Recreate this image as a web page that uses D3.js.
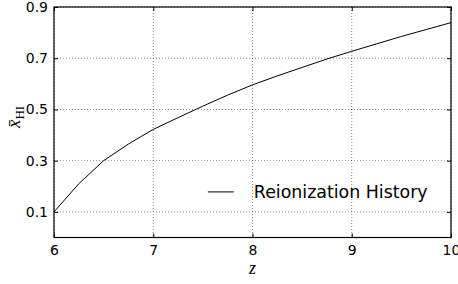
<!DOCTYPE html>
<html>
<head>
<meta charset="utf-8">
<script src="https://cdn.jsdelivr.net/npm/d3@7"></script>
<style>
	body { margin: 0; background: #fff; }
	svg { display: block; }
	.tick text { font-family: "DejaVu Sans", sans-serif; font-size: 14px; fill: #000; }
</style>
</head>
<body>
<svg id="chart" width="458" height="284"></svg>
<script>
// redshift samples and neutral fraction
var zValues = [6, 6.25, 6.5, 6.75, 7, 7.25, 7.5, 7.75, 8, 8.25, 8.5, 8.75, 9, 9.25, 9.5, 9.75, 10]
var xhiValues = [0.1, 0.21, 0.30, 0.365, 0.422, 0.468, 0.513, 0.556, 0.596, 0.631, 0.664, 0.697, 0.727, 0.756, 0.785, 0.812, 0.839]

var xTicks = [6, 7, 8, 9, 10]
var yTicks = [0.1, 0.3, 0.5, 0.7, 0.9]
var legendLabel = "Reionization History"

var width = 458, height = 284
var margin = {top: 7, right: 7, bottom: 46.5, left: 54}
var w = width - margin.left - margin.right
var h = height - margin.top - margin.bottom

var svg = d3.select("#chart")
var g = svg.append("g")
	.attr("transform", "translate(" + margin.left + "," + margin.top + ")")

var xScale = d3.scaleLinear().domain([6, 10]).range([0, w])
var yScale = d3.scaleLinear().domain([0, 0.9]).range([h, 0])

// dotted grid
g.append("g")
	.selectAll("line")
	.data(xTicks)
	.enter()
	.append("line")
	.attr("x1", function(d){ return xScale(d) })
	.attr("x2", function(d){ return xScale(d) })
	.attr("y1", 0)
	.attr("y2", h)
	.attr("stroke", "#000")
	.attr("stroke-width", 0.6)
	.attr("stroke-dasharray", "1,2")
	.attr("opacity", 0.75)

g.append("g")
	.selectAll("line")
	.data(yTicks)
	.enter()
	.append("line")
	.attr("x1", 0)
	.attr("x2", w)
	.attr("y1", function(d){ return yScale(d) })
	.attr("y2", function(d){ return yScale(d) })
	.attr("stroke", "#000")
	.attr("stroke-width", 0.6)
	.attr("stroke-dasharray", "1,2")
	.attr("opacity", 0.75)

// axes, ticks pointing inward like classic matplotlib
var fmtY = d3.format(".1f")
g.append("g")
	.attr("transform", "translate(0," + h + ")")
	.call(d3.axisBottom(xScale).tickValues(xTicks).tickSize(-4).tickPadding(8).tickFormat(d3.format("d")))
	.call(function(a){ a.select(".domain").remove() })

g.append("g")
	.call(d3.axisTop(xScale).tickValues(xTicks).tickSize(-4).tickFormat(""))
	.call(function(a){ a.select(".domain").remove() })

g.append("g")
	.call(d3.axisLeft(yScale).tickValues(yTicks).tickSize(-4).tickPadding(6).tickFormat(fmtY))
	.call(function(a){ a.select(".domain").remove() })

g.append("g")
	.attr("transform", "translate(" + w + ",0)")
	.call(d3.axisRight(yScale).tickValues(yTicks).tickSize(-4).tickFormat(""))
	.call(function(a){ a.select(".domain").remove() })

g.selectAll(".tick line").attr("stroke", "#000").attr("stroke-width", 1)

// frame
g.append("rect")
	.attr("x", 0)
	.attr("y", 0)
	.attr("width", w)
	.attr("height", h)
	.attr("fill", "none")
	.attr("stroke", "#000")
	.attr("stroke-width", 1.2)

// the curve
var line = d3.line()
	.x(function(d, i){ return xScale(zValues[i]) })
	.y(function(d){ return yScale(d) })

g.append("path")
	.datum(xhiValues)
	.attr("d", line)
	.attr("fill", "none")
	.attr("stroke", "#000")
	.attr("stroke-width", 1)

// legend
var legend = g.append("g")
	.attr("transform", "translate(" + (xScale(7.55)) + "," + (yScale(0.178)) + ")")
legend.append("line")
	.attr("x1", 0).attr("x2", 26)
	.attr("y1", 0).attr("y2", 0)
	.attr("stroke", "#000")
	.attr("stroke-width", 1)
legend.append("text")
	.attr("x", 46)
	.attr("y", 6.5)
	.style("font-family", "DejaVu Sans, sans-serif")
	.style("font-size", "17.4px")
	.text(legendLabel)

// axis labels
svg.append("text")
	.attr("x", margin.left + xScale(8))
	.attr("y", 274)
	.attr("text-anchor", "middle")
	.style("font-family", "Liberation Serif, serif")
	.style("font-style", "italic")
	.style("font-size", "18px")
	.text("z")

var ylab = svg.append("text")
	.attr("transform", "translate(20,128) rotate(-90)")
	.style("font-family", "Liberation Serif, serif")
	.style("font-size", "19px")
ylab.append("tspan").style("font-style", "italic").text("x\u0304")
ylab.append("tspan").attr("dy", 3.5).style("font-size", "13px").text("HI")
</script>
</body>
</html>
